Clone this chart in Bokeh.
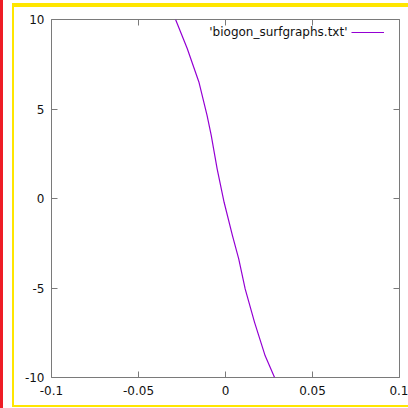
from bokeh.plotting import figure
from bokeh.models import (FixedTicker, LinearAxis, Range1d, Label,
                          Legend, LegendItem, ColumnDataSource)
from bokeh.embed import file_html
from bokeh.resources import INLINE

# ---- data ----
curve_x = [-0.0287, -0.0220, -0.0153, -0.0106, -0.0082, -0.0048, -0.0008,
           0.0040, 0.0076, 0.0113, 0.0167, 0.0228, 0.0282]
curve_y = [10.0, 8.38, 6.51, 4.64, 3.53, 1.66, -0.21,
           -2.07, -3.37, -5.05, -6.92, -8.79, -10.0]
x_ticks = [-0.1, -0.05, 0, 0.05, 0.1]
x_tick_labels = ["-0.1", "-0.05", "0", "0.05", "0.1"]
y_ticks = [-10, -5, 0, 5, 10]
y_tick_labels = ["-10", "-5", "0", "5", "10"]
series_name = "'biogon_surfgraphs.txt'"

FONT = "DejaVu Sans"
AXC = "#7a7a7a"
TXT = "#111111"
LINEC = "#9400D3"

p = figure(width=408, height=408, output_backend="svg", toolbar_location=None,
           x_range=Range1d(-0.1, 0.1), y_range=Range1d(-10, 10),
           x_axis_type=None, y_axis_type=None,
           min_border_left=51, min_border_right=9, min_border_top=19, min_border_bottom=31)
p.background_fill_color = "white"
p.border_fill_color = None
p.outline_line_color = AXC
p.outline_line_width = 1
p.xgrid.visible = False
p.ygrid.visible = False

# page frame decorations around the plot (red bar, yellow rules)
p.styles = {
    "background-color": "white",
    "background-image": ("linear-gradient(#ee1c25,#ee1c25), linear-gradient(#ffe600,#ffe600), "
                         "linear-gradient(#ffe600,#ffe600), linear-gradient(#ffe600,#ffe600)"),
    "background-position": "0px 0px, 12px 3px, 12px 3px, 12px 405px",
    "background-size": "3px 408px, 2px 404px, 396px 4px, 396px 2px",
    "background-repeat": "no-repeat",
}


def style_axis(ax, ticks, labels, standoff, show):
    ax.ticker = FixedTicker(ticks=ticks)
    ax.axis_line_color = None
    ax.major_tick_in = 6
    ax.major_tick_out = 0
    ax.major_tick_line_color = AXC
    ax.major_tick_line_width = 1
    ax.minor_tick_line_color = None
    ax.major_label_overrides = dict(zip(ticks, labels))
    ax.major_label_standoff = standoff
    ax.major_label_text_font = FONT
    if show:
        ax.major_label_text_font_size = "12px"
        ax.major_label_text_color = TXT
    else:
        ax.major_label_text_font_size = "0px"
        ax.major_label_text_color = None


xb = LinearAxis()
style_axis(xb, x_ticks, x_tick_labels, 8, True)
p.add_layout(xb, "below")
yl = LinearAxis()
style_axis(yl, y_ticks, y_tick_labels, 7, True)
p.add_layout(yl, "left")
xa = LinearAxis()
style_axis(xa, x_ticks, x_tick_labels, 0, False)
p.add_layout(xa, "above")
yr = LinearAxis()
style_axis(yr, y_ticks, y_tick_labels, 0, False)
p.add_layout(yr, "right")

src = ColumnDataSource(dict(x=curve_x, y=curve_y))
r = p.line("x", "y", source=src, line_color=LINEC, line_width=1.2,
           line_join="round")

# gnuplot-style key: title text on the left, line sample on the right
legend = Legend(items=[LegendItem(label=" ", renderers=[r])],
                location=(300, 338), padding=0, margin=0, spacing=0,
                glyph_width=33, glyph_height=14, label_height=14,
                label_standoff=0, label_text_font=FONT, label_text_font_size="12px",
                border_line_color=None, background_fill_alpha=0)
p.add_layout(legend, "center")
p.add_layout(Label(x=0.0701, y=9.29, text=series_name, text_align="right",
                   text_baseline="middle", text_font=FONT, text_font_size="12px",
                   text_color=TXT))

open("out.html", "w").write(file_html(p, INLINE))
